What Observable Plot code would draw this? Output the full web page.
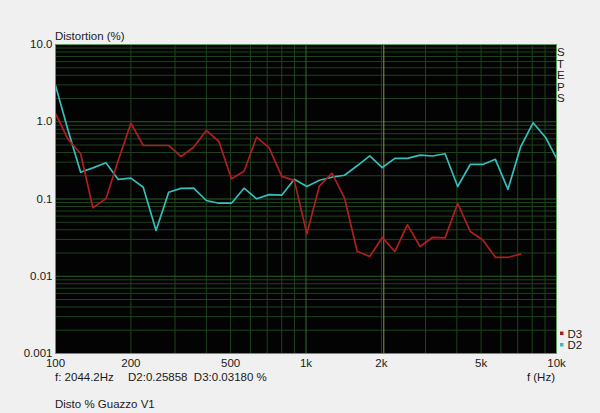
<!DOCTYPE html>
<html>
<head>
<meta charset="utf-8">
<script src="https://cdn.jsdelivr.net/npm/d3@7"></script>
<script src="https://cdn.jsdelivr.net/npm/@observablehq/plot@0.6"></script>
<style>
  html, body { margin: 0; padding: 0; background: #f0f0f0; }
  #chart svg { display: block; }
</style>
</head>
<body>
<div id="chart"></div>
<script>
// Frequencies (Hz), 1/6-octave steps
const freqs = [100, 112, 126, 141, 159, 178, 200, 224, 252, 283, 317, 356, 400, 449, 504, 566, 635, 713, 800, 898,
  1008, 1131, 1270, 1425, 1600, 1796, 2016, 2263, 2540, 2851, 3200, 3592, 4032, 4525, 5080, 5702, 6400, 7184, 8063, 9051, 10159];

// D3 distortion (%)
const d3Values = [1.27, 0.60, 0.385, 0.077, 0.101, 0.315, 0.958, 0.493, 0.493, 0.493, 0.355, 0.468, 0.771, 0.555,
  0.183, 0.229, 0.631, 0.460, 0.196, 0.174, 0.0354, 0.147, 0.216, 0.103, 0.0211, 0.0180, 0.0318, 0.0209,
  0.0465, 0.0243, 0.0318, 0.0314, 0.0874, 0.0380, 0.0295, 0.0176, 0.0176, 0.0193];

// D2 distortion (%)
const d2Values = [2.95, 0.794, 0.222, 0.253, 0.294, 0.179, 0.186, 0.142, 0.0391, 0.1225, 0.137, 0.138, 0.0956, 0.0882,
  0.0882, 0.138, 0.1006, 0.114, 0.112, 0.180, 0.145, 0.175, 0.1915, 0.203, 0.269, 0.362, 0.2557, 0.336,
  0.336, 0.369, 0.360, 0.385, 0.145, 0.280, 0.280, 0.3265, 0.133, 0.468, 0.969, 0.625, 0.306];

const seriesNames = ["D3", "D2"];
const seriesColors = ["#b01e1e", "#38bcbc"];

const xTicks = [100, 200, 500, 1000, 2000, 5000, 10000];
const xTickLabels = ["100", "200", "500", "1k", "2k", "5k", "10k"];
const yTicks = [10, 1, 0.1, 0.01, 0.001];
const yTickLabels = ["10.0", "1.0", "0.1", "0.01", "0.001"];

const xMinorGrid = [200, 300, 400, 500, 600, 700, 800, 900, 2000, 3000, 4000, 5000, 6000, 7000, 8000, 9000];
const xMajorGrid = [100, 1000, 10000];
const yMinorGrid = [0.002, 0.003, 0.004, 0.005, 0.006, 0.007, 0.008, 0.009,
  0.02, 0.03, 0.04, 0.05, 0.06, 0.07, 0.08, 0.09,
  0.2, 0.3, 0.4, 0.5, 0.6, 0.7, 0.8, 0.9,
  2, 3, 4, 5, 6, 7, 8, 9];
const yMajorGrid = [0.001, 0.01, 0.1, 1, 10];

const cursorFreq = 2044.2;
const cursorText = "f: 2044.2Hz";
const readoutText = "D2:0.25858  D3:0.03180 %";

const d3Rows = d3Values.map((v, i) => ({f: freqs[i], v}));
const d2Rows = d2Values.map((v, i) => ({f: freqs[i], v}));

const xLabelMap = new Map(xTicks.map((t, i) => [t, xTickLabels[i]]));
const yLabelMap = new Map(yTicks.map((t, i) => [t, yTickLabels[i]]));

const font = "'Liberation Sans', Arial, sans-serif";

const chart = Plot.plot({
  width: 600,
  height: 413,
  marginLeft: 55,
  marginRight: 44,
  marginTop: 44,
  marginBottom: 60,
  style: {background: "#f0f0f0", fontFamily: font, fontSize: "11.5px", color: "#1a1a1a"},
  x: {type: "log", domain: [100, 10000], ticks: xTicks, tickFormat: d => xLabelMap.get(d), tickSize: 0, tickPadding: 5, label: null},
  y: {type: "log", domain: [0.001, 10], ticks: yTicks, tickFormat: d => yLabelMap.get(d), tickSize: 0, tickPadding: 3, label: null},
  marks: [
    Plot.frame({fill: "#030303", stroke: null}),
    Plot.ruleX(xMinorGrid, {stroke: "#1e431e", strokeWidth: 1}),
    Plot.ruleY(yMinorGrid, {stroke: "#1e431e", strokeWidth: 1}),
    Plot.ruleX(xMajorGrid, {stroke: "#2f6f2f", strokeWidth: 1}),
    Plot.ruleY(yMajorGrid, {stroke: "#2a5f2a", strokeWidth: 1}),
    Plot.ruleX([cursorFreq], {stroke: "#92923c", strokeWidth: 1}),
    Plot.line(d2Rows, {x: "f", y: "v", stroke: seriesColors[1], strokeWidth: 1.7, clip: true}),
    Plot.line(d3Rows, {x: "f", y: "v", stroke: seriesColors[0], strokeWidth: 1.7, clip: true}),
    Plot.frame({stroke: "#5c9c5c", strokeWidth: 1})
  ]
});

document.getElementById("chart").appendChild(chart);

const svg = d3.select(chart);
const g = svg.append("g")
  .attr("font-family", font)
  .attr("font-size", "11.5px")
  .attr("fill", "#1a1a1a")
  .attr("text-anchor", "start");

g.append("text").attr("x", 55).attr("y", 40).text("Distortion (%)");
"STEPS".split("").forEach((ch, i) => {
  g.append("text").attr("x", 557).attr("y", 56 + i * 11.6).text(ch);
});
g.append("text").attr("x", 55).attr("y", 381).text(cursorText);
g.append("text").attr("x", 128).attr("y", 381).style("white-space", "pre").text(readoutText);
g.append("text").attr("x", 555).attr("y", 381).attr("text-anchor", "end").text("f (Hz)");
g.append("text").attr("x", 55).attr("y", 407.5).text("Disto % Guazzo V1");

seriesNames.forEach((name, i) => {
  g.append("rect").attr("x", 560).attr("y", 331.5 + i * 11.5).attr("width", 3.5).attr("height", 3.5).attr("fill", seriesColors[i]);
  g.append("text").attr("x", 567.5).attr("y", 337.5 + i * 11.5).text(name);
});
</script>
</body>
</html>
